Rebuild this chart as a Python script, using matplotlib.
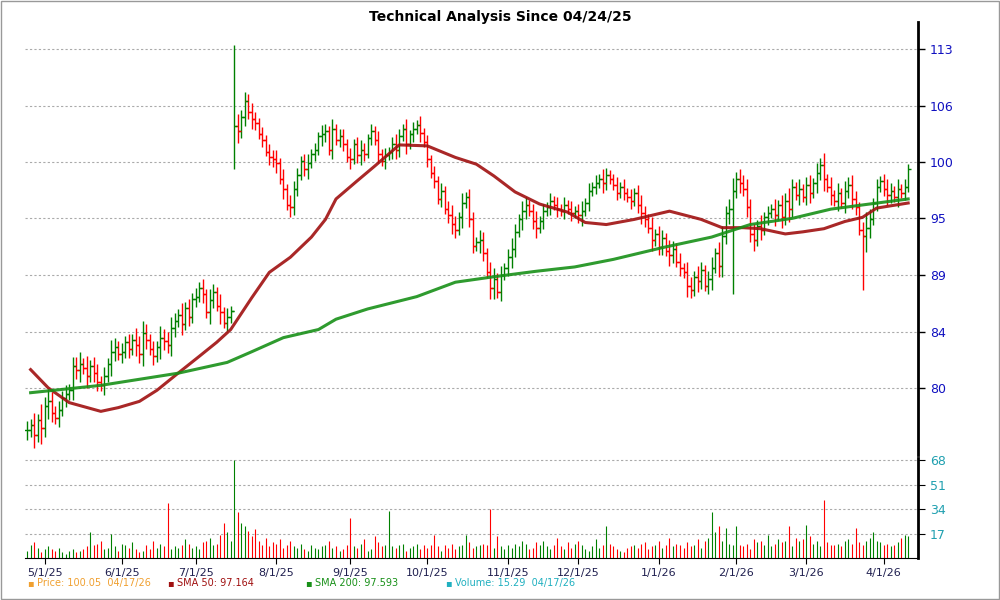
import numpy as np
import pandas as pd
import matplotlib
matplotlib.use("Agg")
import matplotlib.pyplot as plt

# ─── Data ────────────────────────────────────────────────────────────────
closes = [
    76.6, 77.0, 76.2, 77.4, 76.8, 78.5, 78.9, 78.0, 77.6, 78.2,
    79.2, 79.5, 79.8, 81.8, 81.5, 82.0, 81.6, 81.0, 81.8, 81.2,
    80.5, 80.2, 81.0, 82.0, 83.0, 83.4, 82.8, 83.0, 83.8, 83.2,
    84.0, 83.6, 82.8, 84.6, 84.0, 83.2, 82.6, 83.4, 84.2, 83.9,
    83.6, 85.0, 85.6, 86.2, 85.4, 86.8, 86.0, 87.6, 87.8, 88.6,
    88.0, 86.4, 87.5, 88.2, 87.0, 86.4, 85.5, 86.0, 86.5, 104.5,
    104.0, 105.5, 107.2, 106.0, 105.2, 104.8, 103.6, 103.0, 101.8, 101.2,
    101.0, 100.6, 99.0, 98.0, 96.4, 96.2, 98.0, 99.4, 100.8, 100.0,
    100.6, 101.6, 102.0, 103.4, 103.6, 104.0, 102.0, 104.2, 103.0, 103.4,
    102.6, 101.2, 101.0, 102.6, 101.4, 102.0, 101.6, 103.2, 104.0, 103.0,
    101.6, 100.8, 101.4, 101.8, 102.6, 102.0, 103.4, 104.2, 102.6, 103.6,
    104.2, 104.6, 103.8, 102.8, 101.0, 99.6, 98.8, 97.0, 97.8, 96.0,
    95.4, 94.6, 94.0, 95.2, 96.6, 97.2, 95.0, 92.5, 92.8, 93.0,
    91.8, 90.0, 88.6, 89.4, 88.2, 89.8, 90.4, 91.4, 92.2, 93.8,
    95.0, 95.8, 96.4, 95.8, 94.8, 94.2, 94.8, 95.8, 96.2, 96.8,
    96.4, 96.0, 95.8, 96.4, 96.0, 95.6, 95.8, 95.4, 95.8, 96.6,
    97.8, 98.2, 98.6, 99.0, 98.6, 99.4, 99.0, 98.4, 97.6, 98.2,
    97.6, 97.2, 96.8, 97.6, 96.4, 95.6, 95.0, 94.2, 93.0, 93.6,
    92.4, 93.2, 92.0, 91.6, 92.2, 91.0, 90.4, 90.0, 88.8, 88.4,
    89.6, 89.2, 90.2, 88.8, 89.4, 90.4, 91.8, 90.6, 93.4, 95.6,
    96.0, 97.8, 99.0, 98.6, 98.0, 96.2, 93.6, 93.0, 94.4, 94.0,
    95.2, 95.6, 96.0, 95.4, 96.4, 95.2, 96.8, 96.0, 98.2, 97.4,
    98.0, 97.2, 98.4, 97.6, 98.6, 99.6, 100.4, 99.0, 98.2, 97.4,
    96.8, 97.6, 96.6, 97.8, 98.4, 97.0, 96.2, 94.0, 93.4, 94.2,
    95.0, 96.6, 98.2, 98.8, 98.0, 97.4, 97.8, 97.2, 98.0, 97.6,
    98.2, 100.05,
]

# bar spread, one digit per day (units of 0.25)
spread = ("3242534323 2323342423 3232432323 2434323243 3432423232 "
          "3243242323 5343432323 3424243323 4232432423 3242343232 "
          "4232343242 3242323232 3432423324 3244232343 2432342323 "
          "2323232342 3232432232 3232343242 3324323243 2432342443 "
          "4534343424 2324243532 4234243524 2424343236 4232343242 32")
high_override = {59: 113.5}
low_override = {59: 100.0, 201: 88.0, 238: 88.4}

volume = [
    5, 9, 11, 7, 4, 6, 8, 6, 5, 7,
    4, 3, 5, 6, 4, 5, 6, 8, 18, 9,
    10, 12, 6, 7, 17, 8, 5, 10, 9, 7,
    11, 6, 4, 5, 9, 6, 12, 7, 10, 8,
    38, 6, 8, 7, 9, 13, 10, 7, 8, 6,
    11, 12, 14, 9, 10, 16, 24, 18, 12, 68,
    32, 24, 22, 19, 15, 20, 12, 9, 14, 8,
    11, 10, 13, 7, 9, 12, 8, 7, 10, 6,
    5, 9, 7, 6, 8, 9, 12, 7, 8, 5,
    6, 9, 28, 8, 7, 10, 13, 5, 6, 15,
    11, 8, 9, 33, 8, 7, 9, 10, 5, 7,
    8, 10, 6, 9, 7, 9, 16, 8, 5, 9,
    7, 10, 6, 8, 9, 16, 11, 7, 8, 9,
    10, 9, 34, 7, 15, 8, 6, 9, 7, 10,
    8, 12, 10, 6, 7, 11, 9, 12, 8, 6,
    9, 14, 8, 6, 11, 7, 10, 12, 9, 6,
    5, 8, 13, 7, 9, 22, 10, 8, 6, 5,
    4, 7, 8, 9, 7, 10, 11, 6, 8, 9,
    12, 7, 9, 14, 8, 10, 9, 7, 11, 8,
    9, 13, 7, 12, 14, 32, 18, 22, 12, 21,
    10, 9, 22, 9, 8, 10, 6, 13, 11, 12,
    9, 16, 8, 10, 13, 11, 12, 22, 8, 14,
    12, 13, 23, 15, 10, 12, 8, 40, 11, 9,
    9, 10, 8, 12, 13, 10, 21, 11, 9, 12,
    14, 18, 12, 11, 9, 10, 8, 9, 11, 14,
    16, 15.29,
]

sma50_idx = [1, 6, 12, 21, 26, 32, 37, 43, 49, 54, 58, 64, 69, 75, 81, 85, 88,
             94, 99, 106, 114, 122, 128, 133, 139, 146, 154, 159, 165, 173,
             183, 192, 198, 204, 209, 216, 221, 227, 233, 238, 242, 251]
sma50_val = [81.5, 80.0, 78.8, 78.1, 78.4, 78.9, 79.8, 81.2, 82.6, 83.8, 84.9,
             87.7, 90.0, 91.4, 93.3, 95.0, 97.0, 98.8, 100.3, 102.5, 102.4,
             101.2, 100.5, 99.3, 97.7, 96.5, 95.7, 94.7, 94.5, 95.0, 95.8,
             95.0, 94.2, 94.2, 94.1, 93.6, 93.8, 94.1, 94.8, 95.2, 96.1, 96.6]

sma200_idx = [1, 21, 43, 57, 64, 73, 83, 88, 97, 111, 122, 133, 145, 156, 167,
              181, 195, 206, 218, 229, 240, 251]
sma200_val = [79.6, 80.2, 81.2, 82.1, 83.0, 84.2, 84.9, 85.8, 86.7, 87.8, 89.1,
              89.6, 90.1, 90.5, 91.2, 92.3, 93.3, 94.5, 95.1, 96.0, 96.5, 97.0]

price_ticks = [80, 84.7, 89.8, 95.1, 100.7, 106.7, 113.0]
price_labels = ["80", "84", "89", "95", "100", "106", "113"]
vol_ticks = [17, 34, 51, 68]
month_starts = ["2025-05-01", "2025-06-01", "2025-07-01", "2025-08-01",
                "2025-09-01", "2025-10-01", "2025-11-01", "2025-12-01",
                "2026-01-01", "2026-02-01", "2026-03-01", "2026-04-01"]
month_labels = ["5/1/25", "6/1/25", "7/1/25", "8/1/25", "9/1/25", "10/1/25",
                "11/1/25", "12/1/25", "1/1/26", "2/1/26", "3/1/26", "4/1/26"]

# ─── Derived series ──────────────────────────────────────────────────────
n = len(closes)
dates = pd.bdate_range("2025-04-24", periods=n)
idx = np.arange(n)
c = np.array(closes)
o = np.r_[c[0], c[:-1]]
d = np.array([int(ch) for ch in spread.replace(" ", "")]) * 0.25
hi = np.maximum(o, c) + d
lo = np.minimum(o, c) - d
for k, v in high_override.items():
    hi[k] = v
for k, v in low_override.items():
    lo[k] = v
up = c >= o
colors = np.where(up, "#008000", "#ff0000")
tick_pos = [int(np.searchsorted(dates, pd.Timestamp(m))) for m in month_starts]

# ─── Figure ──────────────────────────────────────────────────────────────
fig = plt.figure(figsize=(10, 6), dpi=100)
fig.patch.set_facecolor("white")
ax = fig.add_axes([0.025, 0.2417, 0.893, 0.7217])
axv = fig.add_axes([0.025, 0.07, 0.893, 0.1667], sharex=ax)

ax.set_yscale("log")
ax.set_ylim(74.7, 116.2)
ax.set_xlim(-0.6, 253.8)
ax.vlines(idx, lo, hi, colors=colors, lw=1.0)
ax.hlines(o, idx - 0.8, idx, colors=colors, lw=1.0)
ax.hlines(c, idx, idx + 0.8, colors=colors, lw=1.0)
ax.plot(sma50_idx, sma50_val, color="#a01010", lw=2.2, alpha=0.9)
ax.plot(sma200_idx, sma200_val, color="#189018", lw=2.2, alpha=0.9)

ax.yaxis.tick_right()
ax.minorticks_off()
ax.set_yticks(price_ticks)
ax.set_yticklabels(price_labels, color="#1010c0", fontsize=9)
ax.grid(axis="y", color="#aaaaaa", ls=(0, (2, 2)), lw=0.8)
ax.tick_params(axis="x", bottom=False, labelbottom=False)
ax.tick_params(axis="y", length=5, width=1)
for s in ["left", "top", "bottom"]:
    ax.spines[s].set_visible(False)
ax.spines["right"].set_linewidth(2)

axv.vlines(idx, 0, volume, colors=colors, lw=0.8)
axv.set_ylim(0, 69.5)
axv.yaxis.tick_right()
axv.set_yticks(vol_ticks)
axv.set_yticklabels([str(v) for v in vol_ticks], color="#20a0b0", fontsize=9)
axv.grid(axis="y", color="#aaaaaa", ls=(0, (2, 2)), lw=0.8)
axv.set_xticks(tick_pos)
axv.set_xticklabels(month_labels, fontsize=8, color="#202050")
axv.tick_params(axis="x", length=4)
axv.tick_params(axis="y", length=5)
for s in ["left", "top"]:
    axv.spines[s].set_visible(False)
axv.spines["right"].set_linewidth(2)

fig.text(0.5, 0.983, "Technical Analysis Since 04/24/25", ha="center",
         va="top", fontsize=10, fontweight="bold")

legend_items = [(0.027, "#f0a030", "Price: 100.05  04/17/26"),
                (0.167, "#a01010", "SMA 50: 97.164"),
                (0.305, "#189018", "SMA 200: 97.593"),
                (0.445, "#20b0c0", "Volume: 15.29  04/17/26")]
for x, col, txt in legend_items:
    fig.text(x, 0.028, "\u25aa", color=col, fontsize=7, va="center")
    fig.text(x + 0.01, 0.028, txt, color=col, fontsize=7, va="center")

fig.add_artist(plt.Rectangle((0.001, 0.001), 0.998, 0.998, fill=False,
                             ec="#999999", lw=1, transform=fig.transFigure))
fig.savefig("out.png", dpi=100)
